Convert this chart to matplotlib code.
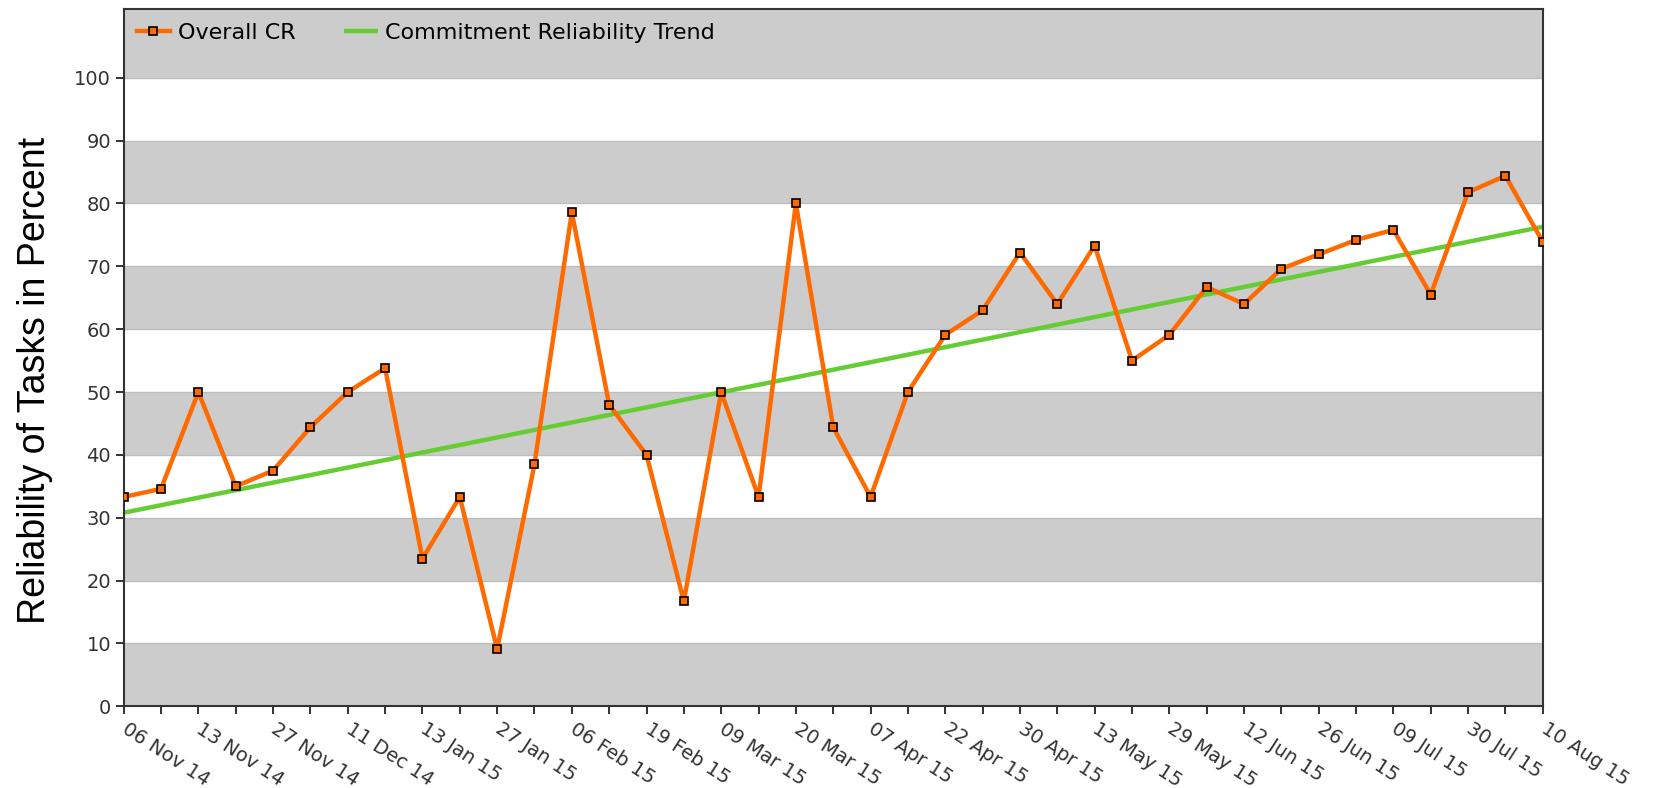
import matplotlib.pyplot as plt
import numpy as np

# sprint dates (every other one gets a label)
dates = ["06 Nov 14", "", "13 Nov 14", "", "27 Nov 14", "", "11 Dec 14", "",
         "13 Jan 15", "", "27 Jan 15", "", "06 Feb 15", "", "19 Feb 15", "",
         "09 Mar 15", "", "20 Mar 15", "", "07 Apr 15", "", "22 Apr 15", "",
         "30 Apr 15", "", "13 May 15", "", "29 May 15", "", "12 Jun 15", "",
         "26 Jun 15", "", "09 Jul 15", "", "30 Jul 15", "", "10 Aug 15"]

overall_cr = [33.3, 34.6, 50.0, 35.0, 37.5, 44.4, 50.0, 53.8, 23.5, 33.3,
              9.1, 38.5, 78.6, 48.0, 40.0, 16.7, 50.0, 33.3, 80.0, 44.4,
              33.3, 50.0, 59.1, 63.0, 72.2, 64.0, 73.3, 55.0, 59.1, 66.7,
              64.0, 69.6, 71.9, 74.2, 75.8, 65.5, 81.8, 84.4, 73.9]

# trend line end values
trend_ends = [30.8, 76.3]

ORANGE = "#ff6a00"
GREEN = "#66cc33"
BAND = "#cccccc"

fig = plt.figure(figsize=(16.58, 7.88), dpi=100)
ax = fig.add_axes([0.0746, 0.1037, 0.9305 - 0.0746, 0.989 - 0.1037])

x = np.arange(len(overall_cr))

# alternating grey bands, top one runs up to the frame
ymax = 111
for lo in range(0, 101, 20):
    hi = ymax if lo == 100 else lo + 10
    ax.axhspan(lo, hi, color=BAND, lw=0, zorder=0)
for y in range(10, 101, 10):
    ax.axhline(y, color="#bdbdbd", lw=1, zorder=0.5)

ax.plot([x[0], x[-1]], trend_ends, color=GREEN, lw=3.2, zorder=2,
        label="Commitment Reliability Trend", solid_capstyle="butt")
ax.plot(x, overall_cr, color=ORANGE, lw=3.2, zorder=3, marker="s", ms=6,
        mfc=ORANGE, mec="black", mew=1.2, label="Overall CR")

ax.set_xlim(0, len(overall_cr) - 1)
ax.set_ylim(0, ymax)
ax.set_yticks(range(0, 101, 10))
ax.set_xticks(x)
ax.set_xticklabels(dates, rotation=-33, ha="left", va="center",
                   rotation_mode="anchor", fontsize=13.5)
ax.tick_params(axis="both", direction="out", length=6, width=1.3,
               colors="#222222", labelsize=14, labelcolor="#333333")
ax.tick_params(axis="x", pad=9)
ax.tick_params(axis="y", pad=3)
for s in ax.spines.values():
    s.set_color("#333333")
    s.set_linewidth(1.5)

fig.text(35 / 1658, 0.5168, "Reliability of Tasks in Percent", fontsize=27,
         family="Liberation Sans", rotation=90, ha="center", va="center")

h, l = ax.get_legend_handles_labels()
ax.legend(h[::-1], l[::-1], loc="center left", bbox_to_anchor=(0.0092, 0.9656),
          ncol=2, frameon=False, fontsize=16, handlelength=1.5,
          columnspacing=2.2, handletextpad=0.35, borderpad=0, borderaxespad=0)

fig.savefig("out.png", dpi=100)
